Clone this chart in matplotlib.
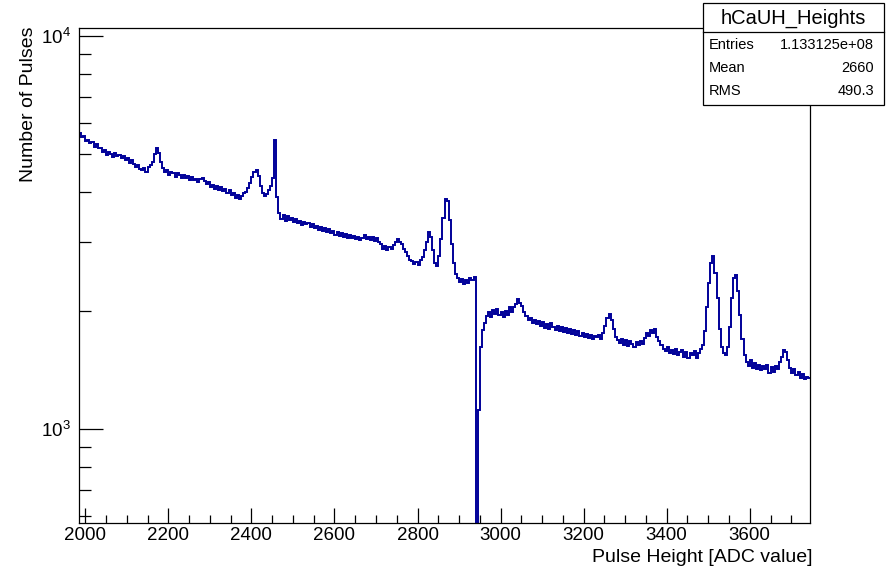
import numpy as np
import matplotlib
matplotlib.use("Agg")
import matplotlib.pyplot as plt
from matplotlib.ticker import FixedLocator, NullFormatter, FixedFormatter
from matplotlib.patches import Rectangle
from matplotlib.lines import Line2D

plt.rcParams['font.family'] = ['Liberation Sans', 'DejaVu Sans']
plt.rcParams['mathtext.fontset'] = 'custom'
plt.rcParams['mathtext.rm'] = 'Liberation Sans'
plt.rcParams['mathtext.it'] = 'Liberation Sans:italic'

# ---- data -------------------------------------------------------------
bin_low = 1985
bin_width = 5
counts = [
    5650, 5520, 5580, 5400, 5450, 5330, 5380, 5220, 5300, 5180,   # 1985
    5200, 5060, 5120, 4990, 5080, 5010, 4930, 5040, 4960, 4990,   # 2035
    4900, 4960, 4830, 4890, 4760, 4840, 4720, 4640, 4700, 4580,   # 2085
    4560, 4620, 4520, 4650, 4700, 4780, 5000, 5180, 5050, 4780,   # 2135
    4620, 4500, 4560, 4440, 4520, 4480, 4390, 4470, 4420, 4360,   # 2185
    4430, 4350, 4410, 4300, 4380, 4290, 4340, 4260, 4320, 4360,   # 2235
    4280, 4200, 4250, 4130, 4190, 4090, 4150, 4060, 4120, 4040,   # 2285
    4090, 3990, 4060, 3940, 3990, 3880, 3950, 3860, 3920, 3980,   # 2335
    4020, 4100, 4220, 4380, 4500, 4560, 4400, 4150, 3980, 3920,   # 2385
    3960, 4050, 4150, 4350, 5450, 3900, 3550, 3430, 3500, 3380,   # 2435
    3480, 3400, 3450, 3360, 3420, 3350, 3390, 3310, 3370, 3320,   # 2485
    3350, 3270, 3320, 3240, 3290, 3210, 3260, 3190, 3240, 3180,   # 2535
    3220, 3150, 3200, 3120, 3170, 3100, 3150, 3090, 3130, 3070,   # 2585
    3110, 3060, 3100, 3040, 3080, 3020, 3070, 3110, 3050, 3090,   # 2635
    3030, 3080, 3010, 3060, 2990, 2950, 2880, 2930, 2860, 2900,   # 2685
    2870, 2940, 2990, 3040, 3000, 2950, 2870, 2820, 2760, 2700,   # 2735
    2680, 2630, 2660, 2610, 2690, 2740, 2850, 3000, 3170, 3080,   # 2785
    2850, 2650, 2600, 2750, 3050, 3450, 3850, 3800, 3400, 2950,   # 2835
    2650, 2480, 2430, 2370, 2410, 2340, 2400, 2360, 2420, 2390,   # 2885
    2440, 300, 1120, 1620, 1790, 1860, 1940, 1990, 1930, 2010,    # 2935
    1960, 2020, 1950, 1990, 1930, 2000, 1950, 2040, 1980, 2050,   # 2985
    2080, 2140, 2090, 2060, 1990, 1940, 1900, 1920, 1860, 1890,   # 3035
    1850, 1880, 1830, 1870, 1810, 1850, 1800, 1860, 1820, 1790,   # 3085
    1830, 1780, 1820, 1770, 1810, 1760, 1800, 1750, 1790, 1740,   # 3135
    1780, 1730, 1760, 1720, 1750, 1710, 1740, 1700, 1730, 1720,   # 3185
    1740, 1700, 1760, 1830, 1920, 1960, 1900, 1800, 1720, 1690,   # 3235
    1660, 1700, 1640, 1690, 1630, 1680, 1650, 1620, 1670, 1640,   # 3285
    1680, 1650, 1710, 1760, 1730, 1790, 1760, 1800, 1720, 1680,   # 3335
    1640, 1600, 1580, 1620, 1560, 1590, 1550, 1600, 1540, 1570,   # 3385
    1590, 1530, 1570, 1520, 1560, 1540, 1580, 1520, 1560, 1600,   # 3435
    1640, 1780, 2050, 2350, 2650, 2750, 2500, 2150, 1800, 1620,   # 3485
    1560, 1540, 1620, 1820, 2150, 2420, 2460, 2250, 1950, 1700,   # 3535
    1540, 1480, 1450, 1500, 1430, 1470, 1420, 1460, 1410, 1450,   # 3585
    1420, 1460, 1390, 1440, 1400, 1450, 1420, 1480, 1530, 1590,   # 3635
    1570, 1500, 1430, 1390, 1420, 1370, 1400, 1350, 1380, 1340,   # 3685
    1360, 1350,                                                   # 3735
]

x_major_ticks = [2000, 2200, 2400, 2600, 2800, 3000, 3200, 3400, 3600]
x_tick_labels = ["2000", "2200", "2400", "2600", "2800", "3000", "3200", "3400", "3600"]
y_major_ticks = [1e3, 1e4]
y_tick_labels = [r"$10^{3}$", r"$10^{4}$"]

stats_name = "hCaUH_Heights"
stats_rows = [("Entries", "1.133125e+08"), ("Mean", "2660"), ("RMS", "490.3")]

edges = bin_low + bin_width * np.arange(len(counts) + 1)

# ---- figure -----------------------------------------------------------
W, H = 890, 569
fig = plt.figure(figsize=(W / 100, H / 100), dpi=100)
L, R, T, B = 79, 810, 28, 523
ax = fig.add_axes([L / W, 1 - B / H, (R - L) / W, (B - T) / H])

ax.stairs(counts, edges, color="#000099", lw=1.4, baseline=None)
ax.set_yscale("log")
ax.set_xlim(1985, 3745)
ax.set_ylim(577, 10480)

# x ticks
ax.xaxis.set_major_locator(FixedLocator(x_major_ticks))
ax.xaxis.set_major_formatter(FixedFormatter(x_tick_labels))
ax.xaxis.set_minor_locator(FixedLocator(np.arange(2000, 3745, 50)))
ax.xaxis.set_minor_formatter(NullFormatter())
# y ticks
ax.yaxis.set_major_locator(FixedLocator(y_major_ticks))
ax.yaxis.set_major_formatter(FixedFormatter(y_tick_labels))
minor_y = [600, 700, 800, 900] + [2000, 3000, 4000, 5000, 6000, 7000, 8000, 9000]
ax.yaxis.set_minor_locator(FixedLocator(minor_y))
ax.yaxis.set_minor_formatter(NullFormatter())

ax.tick_params(axis="x", which="major", direction="in", length=10.5, width=0.9,
               labelsize=13.5, pad=3, top=False)
ax.tick_params(axis="x", which="minor", direction="in", length=5.5, width=0.9, top=False)
ax.tick_params(axis="y", which="major", direction="in", length=17, width=0.9,
               labelsize=13.5, pad=6, right=False)
ax.tick_params(axis="y", which="minor", direction="in", length=8.5, width=0.9, right=False)
for s in ax.spines.values():
    s.set_linewidth(0.9)

fig.text(813 / W, 1 - 558 / H, "Pulse Height [ADC value]", ha="right", va="center", fontsize=14)
fig.text(29 / W, 1 - 27 / H, "Number of Pulses", ha="center", va="top", rotation=90, fontsize=14)

# stats box
bx0, bx1, by0, by1 = 703, 884, 3, 105
box = Rectangle((bx0 / W, 1 - by1 / H), (bx1 - bx0) / W, (by1 - by0) / H,
                transform=fig.transFigure, facecolor="white", edgecolor="black",
                lw=0.9, zorder=10)
fig.add_artist(box)
sep = Line2D([bx0 / W, bx1 / W], [1 - 32 / H, 1 - 32 / H], transform=fig.transFigure,
             color="black", lw=0.9, zorder=11)
fig.add_artist(sep)
fig.text((bx0 + bx1) / 2 / W, 1 - 18 / H, stats_name, ha="center", va="center",
         fontsize=14.5, zorder=12)
for i, (k, v) in enumerate(stats_rows):
    yy = 1 - (45 + 23 * i) / H
    fig.text(709 / W, yy, k, ha="left", va="center", fontsize=10.5, zorder=12)
    fig.text(874 / W, yy, v, ha="right", va="center", fontsize=10.5, zorder=12)

fig.savefig("out.png", dpi=100, facecolor="white")
